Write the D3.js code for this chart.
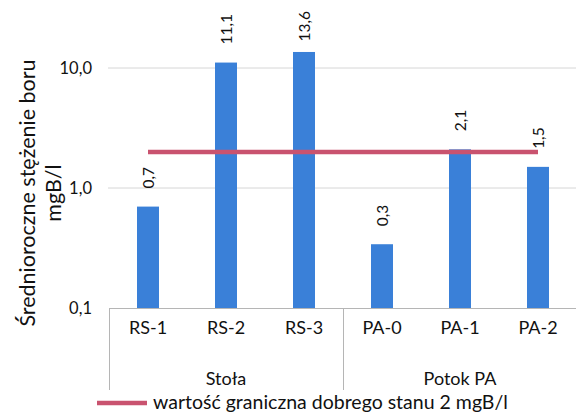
<!DOCTYPE html>
<html>
<head>
<meta charset="utf-8">
<script src="https://cdn.jsdelivr.net/npm/d3@7"></script>
<style>
  html, body { margin: 0; padding: 0; background: #fff; }
  svg { display: block; font-family: Lato, "Open Sans", sans-serif; }
</style>
</head>
<body>
<svg id="chart" width="576" height="412"></svg>
<script>
// ---- data ----
const categories = ["RS-1", "RS-2", "RS-3", "PA-0", "PA-1", "PA-2"];
const groups = ["Stoła", "Stoła", "Stoła", "Potok PA", "Potok PA", "Potok PA"];
const values = [0.7, 11.1, 13.6, 0.34, 2.1, 1.5];
const thresholdValue = 2;
const yTicks = [0.1, 1, 10];
const yTitle = ["Średnioroczne stężenie boru", "mgB/l"];
const legendLabel = "wartość graniczna dobrego stanu 2 mgB/l";

// ---- layout ----
const svg = d3.select("#chart");
const plot = { left: 109, right: 577, top: 11, base: 308 };

const x = d3.scaleBand().domain(categories).range([plot.left, plot.right]).padding(0);
const y = d3.scaleLog().domain([0.1, 10]).range([308, 68]);
const fmt = v => d3.format(".1f")(v).replace(".", ",");

const barW = 22;
const gridColor = "#d6d6d6";
const axisColor = "#b5b5b5";
const barColor = "#3a80d8";
const lineColor = "#c9536f";
const textColor = "#111";

// gridlines
svg.append("g").selectAll("line").data(yTicks.filter(t => t > 0.1)).join("line")
  .attr("x1", 108).attr("x2", 576)
  .attr("y1", d => y(d)).attr("y2", d => y(d))
  .attr("stroke", gridColor).attr("stroke-width", 1);

// y tick labels
svg.append("g").selectAll("text").data(yTicks).join("text")
  .attr("x", 92).attr("y", d => y(d))
  .attr("text-anchor", "end").attr("dominant-baseline", "central")
  .attr("font-size", 16.5).attr("fill", textColor)
  .text(d => fmt(d));

// bars
svg.append("g").selectAll("rect").data(values).join("rect")
  .attr("x", (d, i) => x(categories[i]) + x.bandwidth() / 2 - barW / 2)
  .attr("width", barW)
  .attr("y", d => y(d))
  .attr("height", d => y(0.1) - y(d))
  .attr("fill", barColor);

// category axis box
const ax = svg.append("g").attr("stroke", axisColor).attr("stroke-width", 1);
ax.append("line").attr("x1", plot.left).attr("x2", 576).attr("y1", 308.5).attr("y2", 308.5);
const groupNames = Array.from(new Set(groups));
const groupBounds = groupNames.map(g => {
  const idx = groups.map((gg, i) => gg === g ? i : -1).filter(i => i >= 0);
  return { name: g, x0: x(categories[idx[0]]), x1: x(categories[idx[idx.length - 1]]) + x.bandwidth() };
});
const dividers = [groupBounds[0].x0, ...groupBounds.map(g => g.x1)];
ax.selectAll(".div").data(dividers).join("line")
  .attr("x1", d => Math.round(d) + 0.5).attr("x2", d => Math.round(d) + 0.5)
  .attr("y1", 308).attr("y2", 390);

// category labels
svg.append("g").selectAll("text").data(categories).join("text")
  .attr("x", d => x(d) + x.bandwidth() / 2).attr("y", 334)
  .attr("text-anchor", "middle").attr("font-size", 18).attr("fill", textColor)
  .text(d => d);

// group labels
svg.append("g").selectAll("text").data(groupBounds).join("text")
  .attr("x", d => (d.x0 + d.x1) / 2).attr("y", 385)
  .attr("text-anchor", "middle").attr("font-size", 18).attr("fill", textColor)
  .text(d => d.name);

// value labels (rotated)
const labG = svg.append("g");
values.forEach((v, i) => {
  const cx = x(categories[i]) + x.bandwidth() / 2;
  const t = labG.append("text")
    .attr("text-anchor", "start").attr("dominant-baseline", "central")
    .attr("font-size", 15.5).attr("fill", textColor).text(fmt(v));
  const len = t.node().getComputedTextLength();
  const yy = Math.max(y(v) - 18, plot.top + len);
  t.attr("transform", `translate(${cx},${yy}) rotate(-90)`);
});

// threshold line
svg.append("line")
  .attr("x1", x(categories[0]) + x.bandwidth() / 2)
  .attr("x2", x(categories[categories.length - 1]) + x.bandwidth() / 2)
  .attr("y1", y(thresholdValue)).attr("y2", y(thresholdValue))
  .attr("stroke", lineColor).attr("stroke-width", 4.5);

// y-axis title
const yt = svg.append("text")
  .attr("transform", "translate(27,193) rotate(-90)")
  .attr("text-anchor", "middle").attr("font-size", 21.5).attr("fill", textColor);
yt.append("tspan").attr("x", 0).attr("dy", "0.35em").text(yTitle[0]);
yt.append("tspan").attr("x", 0).attr("dy", "1.22em").text(yTitle[1]);

// legend
svg.append("line").attr("x1", 97).attr("x2", 147).attr("y1", 403).attr("y2", 403)
  .attr("stroke", lineColor).attr("stroke-width", 4.5);
svg.append("text").attr("x", 153).attr("y", 409).attr("font-size", 19.5).attr("fill", textColor)
  .text(legendLabel);
</script>
</body>
</html>
